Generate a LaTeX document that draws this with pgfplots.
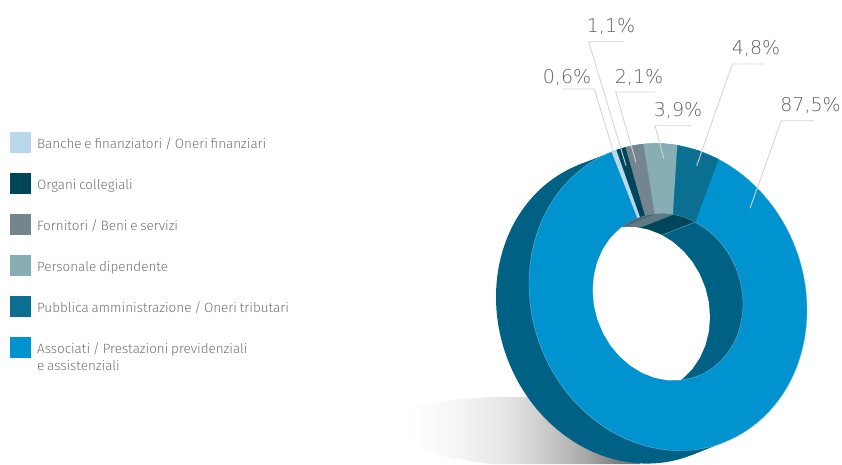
\documentclass[border=0pt]{standalone}
\usepackage{fontspec}
\usepackage{pgfplots}
\pgfplotsset{compat=1.18}
\setmainfont[WordSpace=0.75]{Fira Sans Light}
\newfontfamily\pctfont{DejaVu Sans ExtraLight}
\definecolor{cBanche}{HTML}{BAD8EC}
\definecolor{cOrgani}{HTML}{00465A}
\definecolor{cForni}{HTML}{748590}
\definecolor{cPers}{HTML}{87ADB5}
\definecolor{cPubb}{HTML}{0B6F91}
\definecolor{cAssoc}{HTML}{0093D0}
\definecolor{cSide}{HTML}{006185}
\definecolor{cEdge}{HTML}{6FB6D6}
\definecolor{cLead}{HTML}{D4D4D4}
\definecolor{cText}{HTML}{6C7174}
\definecolor{cPct}{HTML}{606060}
\pgfdeclarehorizontalshading{floor}{100bp}{
    color(0bp)=(white); color(27.5bp)=(white); color(34.6bp)=(black!3); color(43.4bp)=(black!9);
    color(48.7bp)=(black!16); color(53.9bp)=(black!25); color(59.2bp)=(black!36); color(64.5bp)=(black!52); color(100bp)=(black!60)}
\tikzset{
    ring/.style={smooth cycle, tension=0.608},
    lab/.style={font=\fontsize{13.45}{17}\selectfont, text=cText, anchor=base west, inner sep=0pt},
    pct/.style={font=\pctfont\fontsize{19}{19}\selectfont, text=cPct, inner sep=0pt, anchor=base},
    lead/.style={draw=cLead, line width=0.9pt},
}
\begin{document}
\begin{tikzpicture}
\useasboundingbox (0,0) rectangle (842pt,464pt);
\begin{axis}[
    at={(0,0)}, anchor=south west,
    width=842pt, height=464pt, scale only axis,
    xmin=0, xmax=842, ymin=0, ymax=464, y dir=reverse,
    hide axis,
    every axis plot/.append style={no markers},
]
% shadow on the floor
\addplot[draw=none, shading=floor] coordinates {
    (395,425) (400,414) (420,405) (450,400) (490,397) (530,397) (680,397) (640,464) (490,464) (450,458) (420,448) (402,437)} -- cycle;

% side of the ring
\addplot[fill=cSide, draw=none, ring] coordinates {
    (774,323) (769.3,362.2) (755.4,397.8) (733.3,427.4) (704.5,449) (671,461.2) (635,463) (599,454.4)
    (565.5,436) (536.7,409) (514.6,375.2) (500.7,337) (496,297) (500.7,257.8) (514.6,222.2) (536.7,192.6)
    (565.5,171) (599,158.8) (635,157) (671,165.6) (704.5,184) (733.3,211) (755.4,244.8) (769.3,283)};
\addplot[fill=cSide, draw=none] coordinates {(612,151.8) (724,442.3) (691,455.3) (579,164.8)} -- cycle;

% front face, 87,5%
\addplot[fill=cAssoc, draw=cEdge, line width=0.35pt, ring] coordinates {
    (807,310) (802.3,349.2) (788.4,384.8) (766.3,414.4) (737.5,436) (704,448.2) (668,450) (632,441.4)
    (598.5,423) (569.7,396) (547.6,362.2) (533.7,324) (529,284) (533.7,244.8) (547.6,209.2) (569.7,179.6)
    (598.5,158) (632,145.8) (668,144) (704,152.6) (737.5,171) (766.3,198) (788.4,231.8) (802.3,270)};

% front face, the small slices
\addplot[fill=cBanche, draw=cBanche, line width=0.2pt] coordinates {(611.7,151.8) (616.6,150) (640.3,217.3) (637.6,218.3)} -- cycle;
\addplot[fill=cOrgani, draw=cOrgani, line width=0.2pt] coordinates {(616.6,150) (625.7,147.2) (645.2,215.8) (640.3,217.3)} -- cycle;
\addplot[fill=cForni, draw=cForni, line width=0.2pt] coordinates {(625.7,147.2) (634.6,145.4) (643.6,144.1) (654.8,214.1) (650,214.7) (645.2,215.8)} -- cycle;
\addplot[fill=cPers, draw=cPers, line width=0.2pt] coordinates {(643.6,144.1) (660.5,143.5) (677.5,145.3) (673.1,214.7) (663.9,213.7) (654.8,214.1)} -- cycle;
\addplot[fill=cPubb, draw=cPubb, line width=0.2pt] coordinates {(677.5,145.3) (698.2,150.5) (718.3,159.1) (695.1,222.1) (684.3,217.5) (673.1,214.7)} -- cycle;

% inner wall
\addplot[fill=cSide, draw=cEdge, line width=0.35pt, ring] coordinates {
    (743,304) (740.4,325.3) (733,344.6) (721,360.6) (705.5,372.4) (687.4,379) (668,380) (648.6,375.4)
    (630.5,365.4) (615,350.8) (603,332.4) (595.6,311.7) (593,290) (595.6,268.7) (603,249.4) (615,233.4)
    (630.5,221.6) (648.6,215) (668,214) (687.4,218.6) (705.5,228.6) (721,243.2) (733,261.6) (740.4,282.3)};
\addplot[fill=cOrgani, draw=none] coordinates {(695.1,222.1) (684.3,217.5) (673.1,214.7) (640.1,227.7) (651.3,230.5) (662.1,235.1)} -- cycle;
\addplot[draw=cEdge, line width=0.35pt] coordinates {(695.1,222.1) (662.1,235.1)};
\addplot[fill=cPers!70!black, draw=none] coordinates {(673.1,214.7) (663.9,213.7) (654.8,214.1) (621.8,227.1) (630.9,226.7) (640.1,227.7)} -- cycle;
\addplot[fill=cForni!75!black, draw=none] coordinates {(654.8,214.1) (650,214.7) (645.2,215.8) (640.3,217.3) (636.3,218.8) (629.4,222.3) (622.2,227)} -- cycle;

% the hole
\addplot[fill=white, draw=none] coordinates {
    (622.2,227) (635,227) (648,229.5) (660.7,234.4) (672.5,241.6) (683.2,250.9) (692.5,262) (700,274.6)
    (705.5,288.2) (708.9,302.5) (710,317) (708.9,331.3) (705.5,345) (700,357.6) (692.5,368.8) (683.2,378.1)
    (680.8,380) (668,380.3) (654.9,377.9) (642.2,372.9) (630.4,365.7) (619.6,356.3) (610.3,345.2) (602.8,332.6)
    (597.2,318.9) (593.8,304.6) (592.7,290) (593.8,275.6) (597.2,261.9) (602.8,249.2) (610.3,238) (619.6,228.7)} -- cycle;

% leader lines
\addplot[lead] coordinates {(563,89) (594.3,89) (617.5,165)};
\addplot[lead] coordinates {(624.3,41.7) (588.7,41.7) (626,165.7)};
\addplot[lead] coordinates {(655.7,92) (615.7,92) (636,162.3)};
\addplot[lead] coordinates {(691,125.7) (655,125.7) (664,159)};
\addplot[lead] coordinates {(765.3,64) (732.3,64) (696.7,165.7)};
\addplot[lead] coordinates {(814,120.7) (781.3,120.7) (750,208.3)};

\node[pct] at (axis cs:567,83.3) {0,6\%};
\node[pct] at (axis cs:611,32.3) {1,1\%};
\node[pct] at (axis cs:639,83.3) {2,1\%};
\node[pct] at (axis cs:678,116) {3,9\%};
\node[pct] at (axis cs:756,54.3) {4,8\%};
\node[pct] at (axis cs:810.5,111) {87,5\%};

% legend
\addplot[fill=cBanche, draw=none] coordinates {(10,132) (31,132) (31,153) (10,153)} -- cycle;
\addplot[fill=cOrgani, draw=none] coordinates {(10,173) (31,173) (31,194) (10,194)} -- cycle;
\addplot[fill=cForni, draw=none] coordinates {(10,214) (31,214) (31,235) (10,235)} -- cycle;
\addplot[fill=cPers, draw=none] coordinates {(10,255) (31,255) (31,276) (10,276)} -- cycle;
\addplot[fill=cPubb, draw=none] coordinates {(10,296) (31,296) (31,317) (10,317)} -- cycle;
\addplot[fill=cAssoc, draw=none] coordinates {(10,337) (31,337) (31,358) (10,358)} -- cycle;
\node[lab] at (axis cs:37,148.3) {Banche e finanziatori / Oneri finanziari};
\node[lab] at (axis cs:37,189.3) {Organi collegiali};
\node[lab] at (axis cs:37,230.3) {Fornitori / Beni e servizi};
\node[lab] at (axis cs:37,271.3) {Personale dipendente};
\node[lab] at (axis cs:37,312.3) {Pubblica amministrazione / Oneri tributari};
\node[lab] at (axis cs:37,353.3) {Associati / Prestazioni previdenziali};
\node[lab] at (axis cs:37,370.3) {e assistenziali};
\end{axis}
\end{tikzpicture}
\end{document}
